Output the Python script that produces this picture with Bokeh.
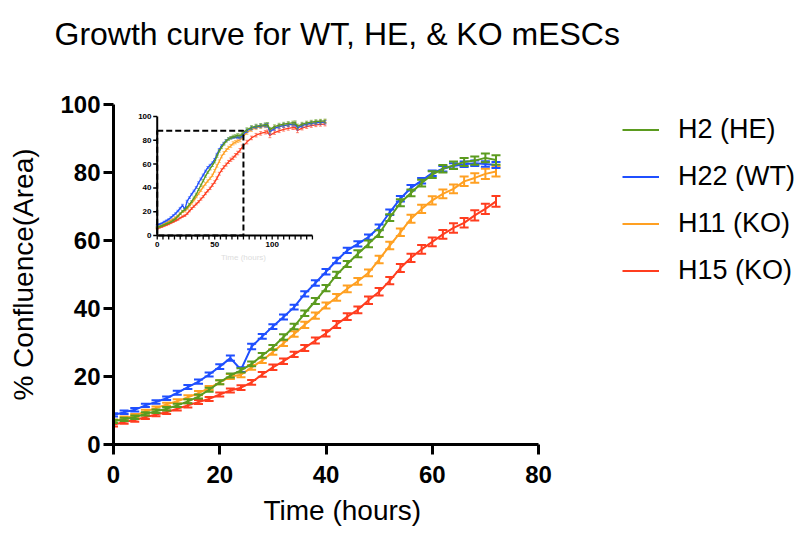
from bokeh.plotting import figure
from bokeh.models import Range1d, FixedTicker, Legend, LegendItem, Title
from bokeh.embed import file_html
from bokeh.resources import INLINE
from bokeh.core.properties import value

FONT = "Liberation Sans"

# ---------------- data ----------------
hours = [0, 2, 4, 6, 8, 10, 12, 14, 16, 18, 20, 22, 24, 26, 28, 30, 32, 34, 36,
         38, 40, 42, 44, 46, 48, 50, 52, 54, 56, 58, 60, 62, 64, 66, 68, 70, 72]

h2_he = [6.8, 7.4, 8.0, 9.0, 9.8, 10.5, 11.5, 12.7, 14.1, 16.1, 18.3, 20.3, 21.8,
         23.7, 26.2, 28.6, 31.6, 34.7, 38.6, 42.2, 46.0, 49.9, 53.1, 56.1, 59.0,
         62.0, 66.7, 71.1, 74.0, 76.9, 79.4, 81.1, 82.1, 83.1, 83.5, 84.3, 83.7]
h22_wt = [8.7, 9.5, 10.2, 11.5, 12.5, 13.6, 15.2, 16.9, 18.5, 20.6, 22.9, 25.4, 22.0,
          28.8, 31.8, 34.7, 37.5, 40.4, 44.3, 47.5, 50.8, 54.1, 57.1, 59.0, 61.0,
          63.9, 68.3, 72.3, 75.5, 77.6, 79.8, 81.1, 81.9, 82.4, 82.7, 82.5, 82.2]
h11_ko = [6.8, 7.7, 8.5, 9.7, 10.7, 11.8, 12.7, 13.9, 15.1, 16.6, 18.3, 20.0, 20.5,
          22.7, 24.7, 27.2, 29.8, 32.5, 35.2, 37.9, 40.9, 43.3, 45.8, 48.0, 50.5,
          54.4, 58.5, 62.4, 66.4, 69.3, 71.8, 73.7, 75.2, 77.4, 78.4, 79.6, 80.3]
h15_ko = [5.8, 6.6, 7.2, 8.0, 8.8, 9.5, 10.5, 11.5, 12.5, 13.4, 14.7, 15.9, 16.7,
          18.3, 20.6, 22.7, 24.5, 26.5, 28.4, 30.6, 32.7, 35.3, 37.6, 39.6, 42.4,
          44.9, 48.2, 51.9, 54.9, 57.4, 59.6, 61.8, 63.7, 65.2, 67.4, 69.3, 71.5]

h2_he_err = [0.5, 0.5, 0.5, 0.5, 0.5, 0.5, 0.5, 0.6, 0.6, 0.6, 0.6, 0.6, 0.6, 0.7,
             0.7, 0.7, 0.8, 0.8, 0.8, 0.9, 0.9, 0.9, 0.9, 1.0, 1.0, 1.0, 1.0, 1.0,
             1.0, 1.0, 1.0, 1.1, 1.1, 1.2, 1.2, 1.3, 1.4]
h22_wt_err = [0.5, 0.5, 0.5, 0.5, 0.5, 0.5, 0.6, 0.6, 0.6, 0.6, 0.7, 0.8, 0.7, 0.8,
              0.7, 0.7, 0.7, 0.7, 0.8, 0.8, 0.8, 0.8, 0.8, 0.8, 0.8, 0.8, 0.8, 0.8,
              0.8, 0.8, 0.8, 0.8, 0.8, 0.8, 0.8, 0.8, 0.9]
h11_ko_err = [0.5, 0.5, 0.5, 0.5, 0.5, 0.5, 0.6, 0.6, 0.6, 0.6, 0.6, 0.7, 0.7, 0.7,
              0.7, 0.8, 0.8, 0.8, 0.9, 0.9, 0.9, 1.0, 1.0, 1.0, 1.0, 1.1, 1.1, 1.1,
              1.2, 1.2, 1.2, 1.3, 1.3, 1.4, 1.4, 1.5, 1.5]
h15_ko_err = [0.5, 0.5, 0.5, 0.5, 0.5, 0.5, 0.5, 0.6, 0.6, 0.6, 0.6, 0.6, 0.7, 0.7,
              0.7, 0.8, 0.8, 0.8, 0.9, 0.9, 0.9, 1.0, 1.0, 1.0, 1.1, 1.1, 1.1, 1.2,
              1.2, 1.3, 1.3, 1.3, 1.4, 1.4, 1.5, 1.5, 1.6]

# inset: full run continues after 72 h
ext_hours = [74, 78, 82, 86, 90, 94, 96, 98, 102, 106, 110, 114, 118, 120, 122,
             126, 130, 134, 138, 142, 146]
h2_he_ext = [85.5, 89.0, 90.8, 92.0, 92.6, 93.2, 93.4, 89.0, 91.5, 92.8, 93.6,
             94.2, 94.6, 94.8, 91.8, 93.6, 94.6, 95.3, 95.8, 96.1, 96.3]
h22_wt_ext = [84.0, 88.0, 90.2, 91.3, 92.0, 92.5, 92.7, 87.0, 90.0, 91.5, 92.4,
              93.0, 93.4, 93.6, 90.5, 92.4, 93.5, 94.2, 94.7, 95.0, 95.2]
h11_ko_ext = [82.5, 86.5, 89.0, 90.5, 91.4, 92.0, 92.3, 88.0, 90.5, 91.8, 92.6,
              93.2, 93.6, 93.8, 90.8, 92.8, 93.8, 94.5, 95.0, 95.4, 95.6]
h15_ko_ext = [74.5, 78.5, 82.0, 84.3, 85.8, 86.8, 87.2, 84.0, 86.5, 88.0, 89.2,
              90.0, 90.6, 90.9, 88.2, 90.2, 91.5, 92.4, 93.0, 93.4, 93.6]
ext_err = [1.5, 1.5, 1.5, 1.5, 1.5, 1.5, 1.5, 1.8, 1.5, 1.5, 1.5, 1.5, 1.5, 1.5,
           1.8, 1.5, 1.5, 1.5, 1.5, 1.5, 1.5]

labels = ["H2 (HE)", "H22 (WT)", "H11 (KO)", "H15 (KO)"]
colors = ["#5B9B1F", "#1F4FFF", "#FFA022", "#FF3D1F"]
series = [h2_he, h22_wt, h11_ko, h15_ko]
errors = [h2_he_err, h22_wt_err, h11_ko_err, h15_ko_err]
ext_series = [h2_he_ext, h22_wt_ext, h11_ko_ext, h15_ko_ext]

x_ticks = [0, 20, 40, 60, 80]
y_ticks = [0, 20, 40, 60, 80, 100]
x_max, y_max = 80, 100

inset_x_labels = [0, 50, 100]
inset_x_minor = [0, 5, 10, 15, 20, 25, 30, 35, 40, 45, 50, 55, 60, 65, 70, 75, 80,
                 85, 90, 95, 100, 105, 110, 115, 120, 125, 130, 135]
inset_y_ticks = [0, 20, 40, 60, 80, 100]
inset_x_end = 135
zoom_box = (75, 88)   # region of the inset shown in the main chart

# ---------------- layout (pixels) ----------------
W, H = 796, 533
FRAME_L, FRAME_R, FRAME_T, FRAME_B = 113, 538, 104, 444
px_per_x = (FRAME_R - FRAME_L) / x_max
x_end = (W - FRAME_L) / px_per_x   # frame runs to the right edge; axis stops at 80

p = figure(width=W, height=H, x_range=Range1d(0, x_end), y_range=Range1d(0, y_max),
           output_backend="svg", toolbar_location=None,
           min_border_left=FRAME_L, min_border_right=0, min_border_top=FRAME_T,
           min_border_bottom=H - FRAME_B)
p.outline_line_color = None
p.grid.visible = False
p.background_fill_color = "white"

# real title (outermost); a blank spacer sits between it and the frame
p.title.text = "Growth curve for WT, HE, & KO mESCs"
p.title.text_font = FONT
p.title.text_font_size = "32px"
p.title.text_font_style = "normal"
p.title.text_color = "black"
p.title.align = "left"
p.title.offset = -59
p.title.standoff = 0
spacer = Title(text=" ", text_font_size="1px", standoff=50)
p.add_layout(spacer, "above")

for ax in (p.xaxis[0], p.yaxis[0]):
    ax.axis_line_width = 3
    ax.major_tick_line_width = 3
    ax.major_tick_out = 10
    ax.major_tick_in = 0
    ax.minor_tick_line_color = None
    ax.major_label_text_font = FONT
    ax.major_label_text_font_size = "24px"
    ax.major_label_text_font_style = "bold"
    ax.major_label_text_color = "black"
    ax.axis_label_text_font = FONT
    ax.axis_label_text_font_size = "28px"
    ax.axis_label_text_font_style = "normal"
    ax.axis_label_text_color = "black"

p.xaxis.ticker = FixedTicker(ticks=x_ticks)
p.yaxis.ticker = FixedTicker(ticks=y_ticks)
p.xaxis.bounds = (0, x_max)
p.yaxis.axis_label = "% Confluence(Area)"
p.xaxis.major_label_standoff = 11
p.yaxis.major_label_standoff = 3
p.yaxis.axis_label_standoff = 18

# x-axis title, placed under the 0-80 axis (the frame itself runs wider)
x_title = Title(text="Time (hours)", align="left", offset=150, standoff=14,
                text_font=FONT, text_font_size="28px", text_font_style="normal",
                text_color="black")
p.add_layout(x_title, "below")

renderers = {}
for lab, col, ys, es in reversed(list(zip(labels, colors, series, errors))):
    lo = [y - e for y, e in zip(ys, es)]
    hi = [y + e for y, e in zip(ys, es)]
    r = p.line(hours, ys, line_width=2, color=col)
    p.segment(x0=hours, y0=lo, x1=hours, y1=hi, line_width=2, color=col)
    p.scatter(hours + hours, lo + hi, marker="dash", size=9, line_width=2, color=col)
    renderers[lab] = r

legend = Legend(items=[LegendItem(label=l, renderers=[renderers[l]]) for l in labels],
                location=(622 - FRAME_L, 158), glyph_width=37, glyph_height=31,
                label_height=31, label_text_font=FONT, label_text_font_size="27px",
                label_text_color="black",
                label_standoff=19, spacing=16, padding=0, margin=0,
                border_line_color=None, background_fill_alpha=0)
p.add_layout(legend, "center")

# ---------------- inset ----------------
inset = p.subplot(x_source=Range1d(0, 100), y_source=Range1d(0, 100),
                  x_target=Range1d(8.23, 29.87), y_target=Range1d(61.47, 96.47))

for lab, col, ys, es, ye in reversed(list(zip(labels, colors, series, errors, ext_series))):
    tx = hours + ext_hours
    ty = ys + ye
    te = es + ext_err
    lo = [y - e for y, e in zip(ty, te)]
    hi = [y + e for y, e in zip(ty, te)]
    inset.segment(x0=tx, y0=lo, x1=tx, y1=hi, line_width=1, color=col, alpha=0.6)
    inset.scatter(tx + tx, lo + hi, marker="dash", size=3, line_width=1, color=col, alpha=0.6)
    inset.line(tx, ty, line_width=1.3, color=col)

# inset axes
inset.segment(x0=[0], y0=[0], x1=[inset_x_end], y1=[0], line_width=2, color="black")
inset.segment(x0=[0], y0=[0], x1=[0], y1=[100], line_width=2, color="black")
inset.segment(x0=inset_x_minor, y0=[0] * len(inset_x_minor), x1=inset_x_minor,
              y1=[-3.4] * len(inset_x_minor), line_width=1.3, color="black")
inset.segment(x0=[0] * len(inset_y_ticks), y0=inset_y_ticks, x1=[-3.5] * len(inset_y_ticks),
              y1=inset_y_ticks, line_width=1.5, color="black")
inset.text(x=inset_x_labels, y=[-5.5] * len(inset_x_labels),
           text=[str(v) for v in inset_x_labels], text_align="center", text_baseline="top",
           text_font=value(FONT), text_font_size="8px", text_font_style="bold", color="black")
inset.text(x=[-5] * len(inset_y_ticks), y=inset_y_ticks, text=[str(v) for v in inset_y_ticks],
           text_align="right", text_baseline="middle",
           text_font=value(FONT), text_font_size="8px", text_font_style="bold", color="black")
inset.text(x=[75], y=[-15], text=["Time (hours)"], text_align="center", text_baseline="top",
           text_font=value(FONT), text_font_size="8px", color="#dddddd")
# dashed zoom box
inset.quad(left=[0], right=[zoom_box[0]], bottom=[0], top=[zoom_box[1]], fill_color=None,
           line_color="black", line_width=2, line_dash="6 3")

open("out.html", "w").write(file_html(p, INLINE))
